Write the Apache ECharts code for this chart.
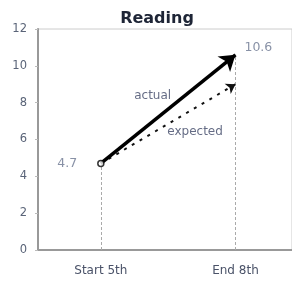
<!DOCTYPE html>
<html><head><meta charset="utf-8">
<script src="https://cdn.jsdelivr.net/npm/echarts@6/dist/echarts.min.js"></script>
<style>html,body{margin:0;padding:0;background:#fff}#c{width:292px;height:282px}</style>
</head><body><div id="c"></div>
<script>
const categories = ['Start 5th', 'End 8th'];
const actualValues = [4.7, 10.6];
const expectedValues = [4.7, 9.0];
const yTicks = [0, 2, 4, 6, 8, 10, 12];
const annotations = [
  {text: 'actual', x: 0.385, y: 8.35},
  {text: 'expected', x: 0.70, y: 6.4}
];
const font = 'DejaVu Sans, Verdana, sans-serif';
const chart = echarts.init(document.getElementById('c'));
chart.setOption({
  animation: false,
  title: {text: 'Reading', left: 152, textAlign: 'center', top: 6,
    textStyle: {fontFamily: font, fontSize: 16, fontWeight: 'bold', color: '#1e2536'}},
  grid: {left: 38, top: 29, right: -3, bottom: 32, show: true, borderColor: '#ccc', borderWidth: 1},
  xAxis: {type: 'value', min: -0.4667, max: 1.42,
    axisLine: {show: true, onZero: false, lineStyle: {color: '#999', width: 2}},
    axisTick: {show: false}, splitLine: {show: false},
    axisLabel: {customValues: [0, 1], formatter: v => categories[Math.round(v)],
      fontFamily: font, fontSize: 12, color: '#4a5268', margin: 15}},
  yAxis: {type: 'value', min: 0, max: 12, interval: 2,
    axisLine: {show: true, onZero: false, lineStyle: {color: '#999', width: 2}},
    axisTick: {show: true, length: 3, lineStyle: {color: '#bbb'}},
    splitLine: {show: false},
    axisLabel: {formatter: v => yTicks.includes(v) ? String(v) : '',
      fontFamily: font, fontSize: 11.5, color: '#5a6478', margin: 11}},
  series: [
    {type: 'lines', coordinateSystem: 'cartesian2d', silent: true, z: 1,
      lineStyle: {color: '#aaa', width: 1, type: [3, 2], opacity: 1},
      data: categories.map((c, i) => ({coords: [[i, 0], [i, actualValues[i]]]}))},
    {type: 'lines', coordinateSystem: 'cartesian2d', silent: true, z: 3,
      symbol: ['none', 'arrow'], symbolSize: 9,
      lineStyle: {color: '#111', width: 2, type: [3, 6], opacity: 1},
      data: [{coords: [[0, expectedValues[0]], [1, expectedValues[1]]]}]},
    {type: 'lines', coordinateSystem: 'cartesian2d', silent: true, z: 4,
      symbol: ['none', 'arrow'], symbolSize: 15,
      lineStyle: {color: '#000', width: 3.5, opacity: 1},
      data: [{coords: [[0, actualValues[0]], [1, actualValues[1]]]}]},
    {type: 'scatter', z: 5, silent: true,
      data: [{value: [0, actualValues[0]], symbol: 'circle', symbolSize: 6,
        itemStyle: {color: '#fff', borderColor: '#000', borderWidth: 1.5},
        label: {show: true, position: 'left', distance: 20, formatter: String(actualValues[0])}},
        {value: [1, actualValues[1]], symbolSize: 0,
        label: {show: true, position: 'right', offset: [4, -7], formatter: String(actualValues[1])}}],
      label: {fontFamily: font, fontSize: 12.5, color: '#6a7690'}},
    {type: 'scatter', z: 6, silent: true, symbolSize: 0,
      data: annotations.map(a => ({value: [a.x, a.y], name: a.text})),
      label: {show: true, position: 'inside', formatter: p => p.name,
        fontFamily: font, fontSize: 12, color: '#3e4766'}}
  ]
});
</script></body></html>
